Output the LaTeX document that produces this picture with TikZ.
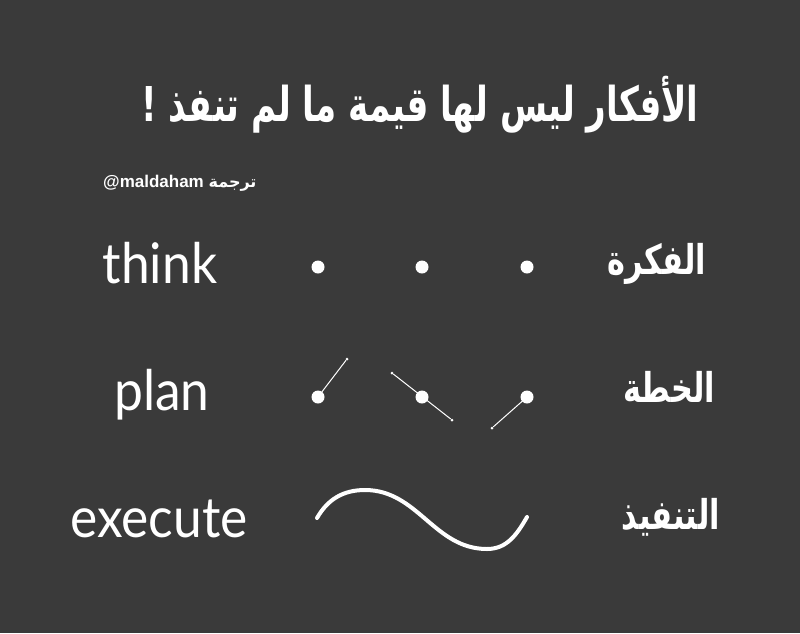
\documentclass[tikz,border=0pt]{standalone}
\usepackage{fontspec}
\TeXXeTstate=1
\newfontfamily\arabicfont[Script=Arabic]{DejaVu Sans}
\newfontfamily\latinfont{Lato}
\newfontfamily\tagfont{Liberation Sans}
\definecolor{bg}{HTML}{3A3A3A}
\begin{document}
\begin{tikzpicture}[x=1pt,y=-1pt,
  dot/.style={circle,fill=white,inner sep=0pt,minimum size=13pt},
  tipdot/.style={circle,fill=white,inner sep=0pt,minimum size=3pt},
  stick/.style={draw=white,line width=1pt},
  wave/.style={draw=white,line width=4pt,line cap=round},
  eng/.style={text=white,font=\latinfont\fontsize{56}{60}\selectfont,inner sep=0pt,anchor=base},
  arab/.style={text=white,font=\arabicfont\bfseries\fontsize{41}{44}\selectfont,inner sep=0pt,anchor=base east}]
\fill[bg] (0,0) rectangle (800,633);
\useasboundingbox (0,0) rectangle (800,633);
% title
\node[text=white,font=\arabicfont\bfseries\fontsize{48}{52}\selectfont,inner sep=0pt,anchor=base] (title) at (420,121) {\scalebox{0.71}[1]{\beginR الأفكار ليس لها قيمة ما لم تنفذ !\endR}};
\node[text=white,inner sep=0pt,anchor=base west] (tag) at (103,187) {\tagfont\bfseries\fontsize{17}{19}\selectfont @maldaham \arabicfont\fontsize{16}{18}\selectfont\beginR ترجمة\endR};
% english labels
\node[eng] (think) at (160,283) {\scalebox{0.92}[1]{think}};
\node[eng] (plan) at (162,410) {\scalebox{0.92}[1]{plan}};
\node[eng] (execute) at (159,537) {\scalebox{0.92}[1]{execute}};
% arabic labels
\node[arab] (fikra) at (706,274) {\scalebox{0.74}[1]{\beginR الفكرة\endR}};
\node[arab] (khitta) at (715,402) {\scalebox{0.74}[1]{\beginR الخطة\endR}};
\node[arab] (tanfiz) at (720,529) {\scalebox{0.74}[1]{\beginR التنفيذ\endR}};
% think dots
\node[dot] (t1) at (318,267) {};
\node[dot] (t2) at (422,267) {};
\node[dot] (t3) at (527,267) {};
% plan dots and sticks
\node[tipdot] (p1e) at (347,359) {};
\node[tipdot] (p2a) at (392,373) {};
\node[tipdot] (p2b) at (452,420) {};
\node[tipdot] (p3e) at (492,428) {};
\draw[stick] (318,397) -- (p1e);
\draw[stick] (p2a) -- (p2b);
\draw[stick] (527,397) -- (p3e);
\node[dot] (p1) at (318,397) {};
\node[dot] (p2) at (422,397) {};
\node[dot] (p3) at (527,397) {};
% execute wave
\coordinate (w0) at (317,518);
\coordinate (w1) at (365,490);
\coordinate (w2) at (487,549);
\coordinate (w3) at (527,517);
\draw[wave] (w0) to[out=60,in=180] (w1) to[out=0,in=180] (w2) to[out=0,in=240] (w3);
\end{tikzpicture}
\end{document}
